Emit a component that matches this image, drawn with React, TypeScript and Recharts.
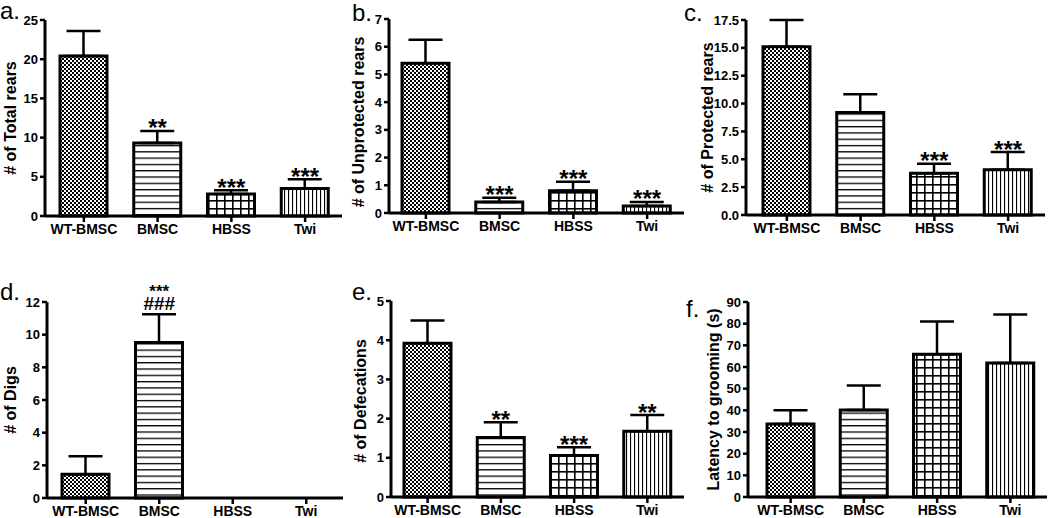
import React from "react"
import { BarChart, Bar, XAxis, YAxis, Cell, ErrorBar, ReferenceDot } from "recharts"

const FONT = '"Liberation Sans", Arial, Helvetica, sans-serif'

const categories = ["WT-BMSC", "BMSC", "HBSS", "Twi"]
const patternIds = ["pat-wt", "pat-bmsc", "pat-hbss", "pat-twi"]

// a. total rears
const totalRearsMean = [20.4, 9.3, 2.8, 3.5]
const totalRearsSem = [3.2, 1.55, 0.5, 1.2]
const totalRearsSig = ["", "**", "***", "***"]
const totalRearsTicks = [0, 5, 10, 15, 20, 25]

// b. unprotected rears
const unprotectedMean = [5.4, 0.4, 0.8, 0.25]
const unprotectedSem = [0.85, 0.15, 0.33, 0.15]
const unprotectedSig = ["", "***", "***", "***"]
const unprotectedTicks = [0, 1, 2, 3, 4, 5, 6, 7]

// c. protected rears
const protectedMean = [15.1, 9.2, 3.75, 4.05]
const protectedSem = [2.4, 1.63, 0.84, 1.6]
const protectedSig = ["", "", "***", "***"]
const protectedTicks = [0, 2.5, 5, 7.5, 10, 12.5, 15, 17.5]

// d. digs
const digsMean = [1.46, 9.52, 0, 0]
const digsSem = [1.1, 1.73, 0, 0]
const digsSig = ["", "***", "", ""]
const digsHash = ["", "###", "", ""]
const digsTicks = [0, 2, 4, 6, 8, 10, 12]

// e. defecations
const defecMean = [3.92, 1.52, 1.06, 1.68]
const defecSem = [0.58, 0.39, 0.21, 0.41]
const defecSig = ["", "**", "***", "**"]
const defecTicks = [0, 1, 2, 3, 4, 5]

// f. latency to grooming
const latencyMean = [33.7, 40.2, 65.9, 61.9]
const latencySem = [6.3, 11.3, 15.1, 22.3]
const latencyTicks = [0, 10, 20, 30, 40, 50, 60, 70, 80, 90]

function rows(mean: number[], sem: number[], sig?: string[], hash?: string[]) {
  return categories.map((name, i) => ({
    name,
    mean: mean[i],
    err: sem[i] ? [0, sem[i]] : null,
    top: mean[i] + sem[i],
    sig: sig ? sig[i] : "",
    hash: hash ? hash[i] : "",
  }))
}

const panels = [
  {
    letter: "a.", letterX: 0, letterY: 19, yLabel: "# of Total rears",
    data: rows(totalRearsMean, totalRearsSem, totalRearsSig), ticks: totalRearsTicks,
    box: { x: 0, y: 0, w: 350, h: 255 }, axisX: 45, plotTop: 20, plotBottom: 216, plotRight: 342, padL: 2,
    labelX: 10, labelDy: 0,
  },
  {
    letter: "b.", letterX: 352, letterY: 21, yLabel: "# of Unprotected rears",
    data: rows(unprotectedMean, unprotectedSem, unprotectedSig), ticks: unprotectedTicks,
    box: { x: 350, y: 0, w: 350, h: 255 }, axisX: 389, plotTop: 19, plotBottom: 213, plotRight: 684, padL: 0,
    labelX: 358, labelDy: 6,
  },
  {
    letter: "c.", letterX: 684, letterY: 21, yLabel: "# of Protected rears",
    data: rows(protectedMean, protectedSem, protectedSig), ticks: protectedTicks, fixed: 1,
    box: { x: 700, y: 0, w: 350, h: 255 }, axisX: 746, plotTop: 20, plotBottom: 215, plotRight: 1045, padL: 4,
    labelX: 707, labelDy: 0,
  },
  {
    letter: "d.", letterX: 0, letterY: 300, yLabel: "# of Digs",
    data: rows(digsMean, digsSem, digsSig, digsHash), ticks: digsTicks,
    box: { x: 0, y: 255, w: 350, h: 263 }, axisX: 47, plotTop: 302, plotBottom: 498, plotRight: 343, padL: 2,
    labelX: 10, labelDy: 0,
  },
  {
    letter: "e.", letterX: 352, letterY: 300, yLabel: "# of Defecations",
    data: rows(defecMean, defecSem, defecSig), ticks: defecTicks,
    box: { x: 350, y: 255, w: 350, h: 263 }, axisX: 391, plotTop: 301, plotBottom: 497, plotRight: 684, padL: 0,
    labelX: 360, labelDy: 2,
  },
  {
    letter: "f.", letterX: 686, letterY: 317, yLabel: "Latency to grooming (s)",
    data: rows(latencyMean, latencySem), ticks: latencyTicks,
    box: { x: 700, y: 255, w: 350, h: 263 }, axisX: 748, plotTop: 302, plotBottom: 497, plotRight: 1047, padL: 6,
    labelX: 713, labelDy: 0,
  },
]

const X_AXIS_H = 30

function sigShape(d: any) {
  return (p: any) => {
    const { cx, cy } = p
    if (d.hash) {
      return (
        <g fontFamily={FONT} fontWeight={700} fill="#000" textAnchor="middle">
          <text x={cx} y={cy - 17} fontSize={17}>{d.sig}</text>
          <text x={cx} y={cy - 4} fontSize={19}>{d.hash}</text>
        </g>
      )
    }
    return (
      <text x={cx} y={cy + 5.5} fontSize={24} fontFamily={FONT} fontWeight={700} fill="#000" textAnchor="middle">
        {d.sig}
      </text>
    )
  }
}

function Panel({ p }: { p: any }) {
  const { box } = p
  const yAxisW = p.axisX - box.x
  const margin = {
    top: p.plotTop - box.y,
    left: 0,
    right: box.x + box.w - p.plotRight,
    bottom: box.y + box.h - p.plotBottom - X_AXIS_H,
  }
  const xTick = { fill: "#000", fontSize: 14, fontWeight: 700, fontFamily: FONT }
  const yTick = { fill: "#000", fontSize: 13, fontWeight: 700, fontFamily: FONT }
  const labelY = (p.plotTop + p.plotBottom) / 2 - box.y + p.labelDy
  const labelX = p.labelX - box.x
  const max = p.ticks[p.ticks.length - 1]

  return (
    <div style={{ position: "absolute", left: box.x, top: box.y }}>
      <BarChart width={box.w} height={box.h} data={p.data} margin={margin}>
        <XAxis
          dataKey="name"
          height={X_AXIS_H}
          padding={{ left: p.padL, right: 0 }}
          tick={xTick}
          tickSize={6}
          tickMargin={2}
          axisLine={{ stroke: "#000", strokeWidth: 3 }}
          tickLine={{ stroke: "#000", strokeWidth: 2.5 }}
          interval={0}
        />
        <YAxis
          width={yAxisW}
          domain={[0, max]}
          ticks={p.ticks}
          interval={0}
          tick={yTick}
          tickSize={5}
          tickMargin={2}
          tickFormatter={(v) => (p.fixed ? Number(v).toFixed(p.fixed) : String(v))}
          axisLine={{ stroke: "#000", strokeWidth: 3 }}
          tickLine={{ stroke: "#000", strokeWidth: 2.5 }}
          label={() => (
            <text
              x={labelX}
              y={labelY}
              transform={`rotate(-90 ${labelX} ${labelY})`}
              textAnchor="middle"
              dominantBaseline="central"
              fontFamily={FONT}
              fontWeight={700}
              fontSize={16}
              fill="#000"
            >
              {p.yLabel}
            </text>
          )}
        />
        <Bar dataKey="mean" barSize={47} stroke="#000" strokeWidth={3} isAnimationActive={false}>
          {p.data.map((d: any, i: number) => (
            <Cell key={d.name} fill={`url(#${patternIds[i]})`} />
          ))}
          <ErrorBar dataKey="err" width={17} stroke="#000" strokeWidth={2.5} direction="y" />
        </Bar>
        {p.data
          .filter((d: any) => d.sig)
          .map((d: any) => (
            <ReferenceDot key={d.name} x={d.name} y={d.top} r={0} shape={sigShape(d)} />
          ))}
      </BarChart>
    </div>
  )
}

export default function App() {
  return (
    <div style={{ position: "absolute", left: 0, top: 0, width: 1050, height: 518, background: "#fff" }}>
      <svg width={1050} height={518} style={{ position: "absolute", left: 0, top: 0 }}>
        <defs>
          <pattern id="pat-wt" width="4" height="4" patternUnits="userSpaceOnUse">
            <rect width="4" height="4" fill="#fff" />
            <rect width="2" height="2" fill="#000" />
            <rect x="2" y="2" width="2" height="2" fill="#000" />
          </pattern>
          <pattern id="pat-bmsc" width="8" height="6.3" patternUnits="userSpaceOnUse">
            <rect width="8" height="6.3" fill="#fff" />
            <rect width="8" height="1.3" fill="#000" />
          </pattern>
          <pattern id="pat-hbss" width="8" height="8" patternUnits="userSpaceOnUse">
            <rect width="8" height="8" fill="#fff" />
            <rect width="1.6" height="8" fill="#000" />
            <rect width="8" height="1.6" fill="#000" />
          </pattern>
          <pattern id="pat-twi" width="4" height="8" patternUnits="userSpaceOnUse">
            <rect width="4" height="8" fill="#fff" />
            <rect width="1.1" height="8" fill="#000" />
          </pattern>
        </defs>
        {panels.map((p) => (
          <text key={p.letter} x={p.letterX} y={p.letterY} fontFamily={FONT} fontSize={24} fill="#000">
            {p.letter}
          </text>
        ))}
      </svg>
      {panels.map((p) => (
        <Panel key={p.letter} p={p} />
      ))}
    </div>
  )
}
